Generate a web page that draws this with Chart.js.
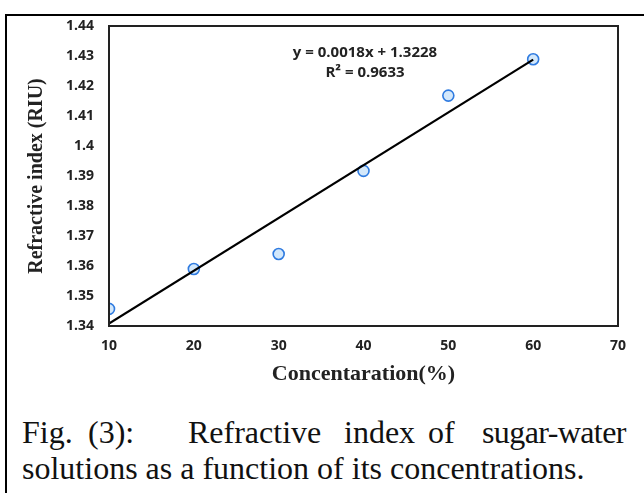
<!DOCTYPE html>
<html>
<head>
<meta charset="utf-8">
<script src="https://cdn.jsdelivr.net/npm/chart.js@4.4.1/dist/chart.umd.min.js"></script>
<style>
  html, body { margin: 0; padding: 0; background: #fff; width: 644px; height: 493px; overflow: hidden; }
  #frame { position: absolute; left: 5px; top: 14px; width: 700px; height: 600px; border-left: 2.5px solid #000; border-top: 2.5px solid #000; box-sizing: border-box; }
  #wrap { position: absolute; left: 0; top: 0; width: 644px; height: 400px; }
  .cap { position: absolute; font-family: "Liberation Serif", "Times New Roman", serif; font-size: 32px; color: #111; white-space: nowrap; line-height: 1; }
</style>
</head>
<body>
<div id="frame"></div>
<div id="wrap"><canvas id="c" width="644" height="400"></canvas></div>
<div class="cap" style="left:22px; top:416px;">Fig.</div>
<div class="cap" style="left:88px; top:416px;">(3):</div>
<div class="cap" style="left:188px; top:416px;">Refractive</div>
<div class="cap" style="left:344px; top:416px;">index</div>
<div class="cap" style="left:428px; top:416px;">of</div>
<div class="cap" style="left:482px; top:416px; letter-spacing:-0.6px;">sugar-water</div>
<div class="cap" style="left:22px; top:452px;">solutions as a function of its concentrations.</div>
<script>
const concentrations = [10, 20, 30, 40, 50, 60];
const refractiveIndex = [1.3457, 1.3590, 1.3640, 1.3917, 1.4168, 1.4289];
const trendX = [10, 60];
const trendY = [1.3408, 1.4288];
const equationText = "y = 0.0018x + 1.3228";
const r2Text = "R\u00B2 = 0.9633";
const xTitle = "Concentaration(%)";
const yTitle = "Refractive index (RIU)";

const tickFont = { family: "'Open Sans', 'Liberation Sans', sans-serif", size: 14, weight: "bold" };

const eqPlugin = {
  id: "eq",
  afterDraw(chart) {
    const ctx = chart.ctx;
    ctx.save();
    ctx.fillStyle = "#222";
    ctx.font = "bold 15px 'Open Sans', 'Liberation Sans', sans-serif";
    ctx.textAlign = "center";
    ctx.textBaseline = "middle";
    ctx.fillText(equationText, 365, 53);
    ctx.fillText(r2Text, 365, 73);
    ctx.restore();
  }
};

const borderPlugin = {
  id: "plotBorder",
  afterDatasetsDraw(chart) {
    const { ctx, chartArea: a } = chart;
    ctx.save();
    ctx.strokeStyle = "#222";
    ctx.lineWidth = 2;
    ctx.strokeRect(a.left, a.top, a.right - a.left, a.bottom - a.top);
    ctx.restore();
  }
};

new Chart(document.getElementById("c"), {
  type: "scatter",
  data: {
    datasets: [
      {
        label: "trend",
        type: "line",
        data: trendX.map((x, i) => ({ x, y: trendY[i] })),
        borderColor: "#000",
        borderWidth: 2.2,
        pointRadius: 0,
        fill: false,
        order: 0
      },
      {
        label: "data",
        data: concentrations.map((x, i) => ({ x, y: refractiveIndex[i] })),
        pointRadius: 5.5,
        pointBorderWidth: 1.6,
        pointBackgroundColor: "#d3e8fb",
        pointBorderColor: "#2f7be0",
        order: 1
      }
    ]
  },
  options: {
    responsive: false,
    animation: false,
    devicePixelRatio: 1,
    layout: { padding: { left: 0, top: 26, right: 26, bottom: 0 } },
    plugins: { legend: { display: false }, tooltip: { enabled: false } },
    scales: {
      x: {
        type: "linear",
        min: 10, max: 70,
        ticks: { stepSize: 10, font: tickFont, color: "#222", padding: 12 },
        grid: { display: false, drawTicks: false },
        border: { display: false },
        title: { display: true, text: xTitle, color: "#222", font: { family: "'Liberation Serif', serif", size: 22, weight: "bold" }, padding: { top: 0, bottom: 12 } },
        afterFit(s) { s.height = 74; }
      },
      y: {
        min: 1.34, max: 1.44,
        ticks: { stepSize: 0.01, font: tickFont, color: "#222", padding: 15,
          callback: v => parseFloat(Number(v).toFixed(2)).toString() },
        grid: { display: false, drawTicks: false },
        border: { display: false },
        title: { display: true, text: yTitle, color: "#222", font: { family: "'Liberation Serif', serif", size: 20, weight: "bold" }, padding: { top: 25, bottom: 0 } },
        afterFit(s) { s.width = 109; }
      }
    }
  },
  plugins: [eqPlugin, borderPlugin]
});
</script>
</body>
</html>
